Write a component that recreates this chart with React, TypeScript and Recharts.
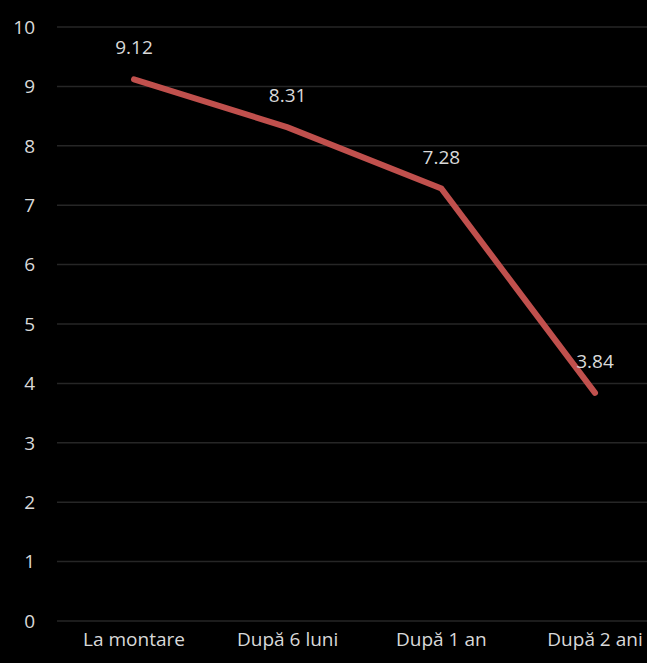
import React from "react";
import { LineChart, Line, XAxis, YAxis, CartesianGrid, LabelList } from "recharts";

const categories = ["La montare", "După 6 luni", "După 1 an", "După 2 ani"];
const values = [9.12, 8.31, 7.28, 3.84];
const yTicks = [0, 1, 2, 3, 4, 5, 6, 7, 8, 9, 10];

const data = categories.map((c, i) => ({ name: c, value: values[i] }));

const FONT = "'Open Sans', 'Noto Sans', sans-serif";
const TEXT = "#d9d9d9";

export default function App() {
  return (
    <div
      style={{
        position: "absolute",
        left: 0,
        top: 0,
        width: 647,
        height: 663,
        overflow: "hidden",
        background: "#000000",
      }}
    >
      <LineChart
        width={672}
        height={663}
        data={data}
        margin={{ top: 27, right: 0, bottom: 0, left: 0 }}
        style={{ background: "#000000" }}
      >
        <CartesianGrid vertical={false} stroke="#262626" strokeWidth={1.5} />
        <XAxis
          dataKey="name"
          axisLine={false}
          tickLine={false}
          height={42}
          tickMargin={6}
          padding={{ left: 77, right: 77 }}
          tick={{ fill: TEXT, fontSize: 19, fontFamily: FONT }}
          interval={0}
        />
        <YAxis
          width={57}
          domain={[0, 10]}
          ticks={yTicks}
          axisLine={false}
          tickLine={false}
          tickMargin={16}
          tick={{ fill: TEXT, fontSize: 19, fontFamily: FONT }}
        />
        <Line
          type="linear"
          dataKey="value"
          stroke="#c0504d"
          strokeWidth={6}
          dot={false}
          strokeLinecap="round"
          isAnimationActive={false}
        >
          <LabelList
            dataKey="value"
            position="top"
            offset={25}
            fill={TEXT}
            fontSize={19}
            fontFamily={FONT}
          />
        </Line>
      </LineChart>
    </div>
  );
}
